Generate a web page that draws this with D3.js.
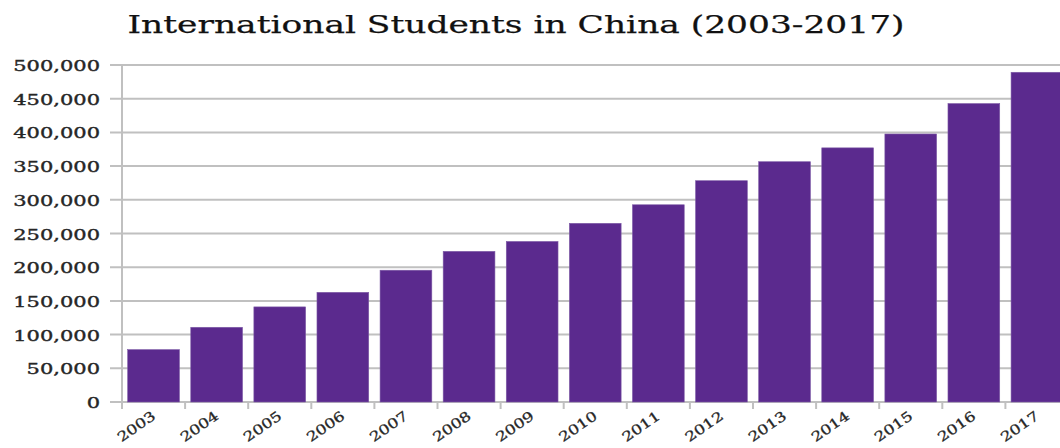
<!DOCTYPE html>
<html>
<head>
<meta charset="utf-8">
<script src="https://cdn.jsdelivr.net/npm/d3@7/dist/d3.min.js"></script>
<style>
  html, body { margin: 0; padding: 0; background: #fff; }
  svg { display: block; }
</style>
</head>
<body>
<svg id="chart" width="1060" height="448"></svg>
<script>
// International students enrolled in China, by year
const years = ["2003","2004","2005","2006","2007","2008","2009","2010","2011","2012","2013","2014","2015","2016","2017"];
const students = [77715, 110844, 141087, 162695, 195503, 223499, 238184, 265090, 292611, 328330, 356499, 377054, 397635, 442773, 489200];
const yTicks = [0, 50000, 100000, 150000, 200000, 250000, 300000, 350000, 400000, 450000, 500000];
const titleText = "International Students in China (2003-2017)";

(function draw() {
  const svg = d3.select("#chart");
  const W = 1060;
  const plotLeft = 122, plotTop = 65, plotBottom = 402;
  const step = 63.1;
  const fontFamily = "'DejaVu Serif', 'Liberation Serif', serif";
  const textColor = "#262626";
  const gridColor = "#c0c0c0";
  const barColor = "#5b2a8e";
  const yStretch = 1.5;   // widened axis lettering
  const xStretch = 1.25;

  const x = d3.scaleBand()
    .domain(years)
    .range([plotLeft, plotLeft + step * years.length])
    .paddingInner(0.18)
    .paddingOuter(0.09);

  const y = d3.scaleLinear().domain([0, 500000]).range([plotBottom, plotTop]);

  // Title
  svg.append("text")
    .attr("x", 516).attr("y", 33)
    .attr("text-anchor", "middle")
    .attr("font-family", fontFamily)
    .attr("font-size", 24.5)
    .attr("fill", "#111")
    .attr("stroke", "#111")
    .attr("stroke-width", 0.25)
    .attr("textLength", 777)
    .attr("lengthAdjust", "spacingAndGlyphs")
    .text(titleText);

  // Horizontal gridlines (extend left as tick marks)
  svg.append("g").selectAll("line").data(yTicks).join("line")
    .attr("x1", 110).attr("x2", W)
    .attr("y1", d => y(d)).attr("y2", d => y(d))
    .attr("stroke", gridColor).attr("stroke-width", 2);

  // Value axis labels
  const fmt = d3.format(",");
  svg.append("g").selectAll("text").data(yTicks).join("text")
    .attr("transform", d => `translate(100,${y(d) + 6}) scale(${yStretch},1)`)
    .attr("text-anchor", "end")
    .attr("font-family", fontFamily)
    .attr("font-size", 14)
    .attr("fill", textColor)
    .attr("stroke", textColor)
    .attr("stroke-width", 0.35)
    .text(d => fmt(d));

  // Bars
  svg.append("g").selectAll("rect").data(years).join("rect")
    .attr("x", d => x(d))
    .attr("width", x.bandwidth())
    .attr("y", (d, i) => y(students[i]))
    .attr("height", (d, i) => plotBottom - y(students[i]))
    .attr("fill", barColor)
    .attr("stroke", "#7d5aa6")
    .attr("stroke-width", 0.6);

  // Category axis line and tick marks at band boundaries
  svg.append("line")
    .attr("x1", plotLeft).attr("x2", plotLeft)
    .attr("y1", plotTop).attr("y2", plotBottom + 7)
    .attr("stroke", gridColor).attr("stroke-width", 2);

  const boundaries = d3.range(years.length + 1).map(i => x.range()[0] + i * x.step());
  svg.append("g").selectAll("line").data(boundaries).join("line")
    .attr("x1", d => d).attr("x2", d => d)
    .attr("y1", plotBottom).attr("y2", plotBottom + 7)
    .attr("stroke", gridColor).attr("stroke-width", 2);

  // Rotated year labels
  svg.append("g").selectAll("text").data(years).join("text")
    .attr("transform", d => `translate(${x(d) + x.bandwidth() / 2 + 3},${plotBottom + 16}) rotate(-35) scale(${xStretch},1)`)
    .attr("text-anchor", "end")
    .attr("font-family", fontFamily)
    .attr("font-size", 13.5)
    .attr("fill", textColor)
    .attr("stroke", textColor)
    .attr("stroke-width", 0.3)
    .text(d => d);
})();
</script>
</body>
</html>
